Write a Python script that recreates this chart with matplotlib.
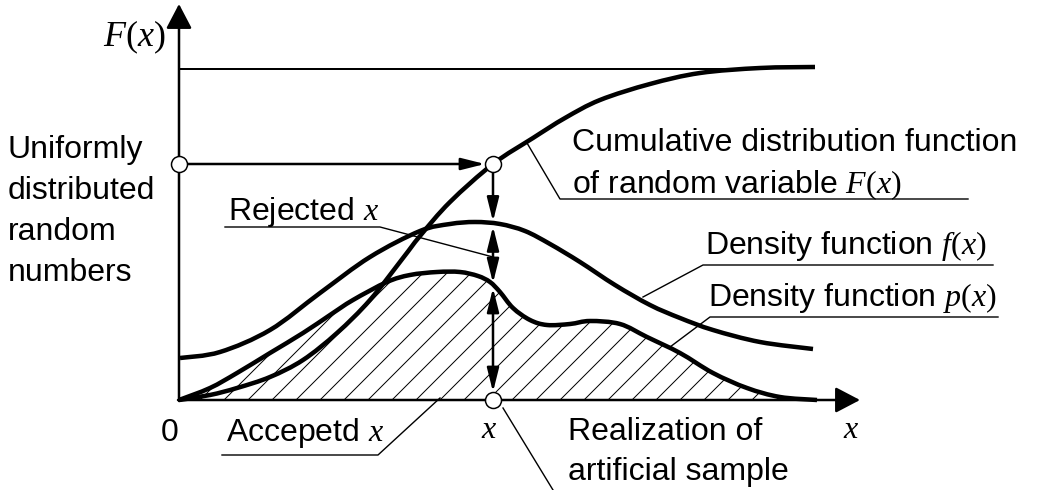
import numpy as np
import matplotlib
matplotlib.use("Agg")
from matplotlib import pyplot as plt
from matplotlib.path import Path
from matplotlib.patches import PathPatch

plt.rcParams['font.family'] = ['Liberation Sans', 'DejaVu Sans']
plt.rcParams['mathtext.fontset'] = 'custom'
plt.rcParams['mathtext.it'] = 'Liberation Serif:italic'
plt.rcParams['mathtext.rm'] = 'Liberation Serif'
plt.rcParams['hatch.linewidth'] = 1.0

# curves (pixel-like units, y grows downward)
cdf_x = [179, 210, 237, 270, 303, 337, 370, 403, 420, 450, 493, 533, 565, 600, 650, 700, 760, 815]
cdf_y = [400, 395, 388, 377, 360, 333, 300, 258, 236, 202, 164, 138, 118, 100, 84, 73, 68, 67]

f_x = [180, 220, 270, 320, 370, 420, 450, 475, 500, 525, 550, 580, 615, 650, 680, 713, 760, 813]
f_y = [358, 352, 330, 293, 257, 231, 224, 222, 224, 231, 244, 262, 285, 305, 318, 330, 342, 349]

p_x = [179, 210, 237, 270, 303, 330, 353, 387, 410, 437, 460, 478, 490, 500, 513, 530, 547,
       570, 590, 620, 647, 680, 713, 747, 780, 817]
p_y = [400, 388, 373, 353, 333, 315, 300, 282, 275, 272, 272, 276, 282, 292, 308, 320, 325,
       324, 321, 324, 337, 353, 373, 388, 397, 400]

left_label = ['Uniformly', 'distributed', 'random', 'numbers']

x0 = 493  # sampled x
axis_y = 400


def smooth_path(xs, ys, close_to=None):
    # bezier path through the read points (catmull-rom handles)
    pts = np.column_stack([xs, ys]).astype(float)
    n = len(pts)
    verts = [pts[0]]
    codes = [Path.MOVETO]
    for i in range(n - 1):
        p0 = pts[max(i - 1, 0)]
        p1 = pts[i]
        p2 = pts[i + 1]
        p3 = pts[min(i + 2, n - 1)]
        verts += [p1 + (p2 - p0) / 6, p2 - (p3 - p1) / 6, p2]
        codes += [Path.CURVE4] * 3
    if close_to is not None:
        verts += [(xs[-1], close_to), (xs[0], close_to), pts[0]]
        codes += [Path.LINETO, Path.LINETO, Path.CLOSEPOLY]
    return Path(verts, codes)


fig = plt.figure(figsize=(1038 / 72, 490 / 72), dpi=72)
ax = fig.add_axes([0, 0, 1, 1])
ax.set_xlim(0, 1038)
ax.set_ylim(490, 0)
ax.axis('off')

# hatched area under p(x)
ax.add_patch(PathPatch(smooth_path(p_x, p_y, close_to=axis_y), facecolor='none',
                       edgecolor='black', hatch='/', lw=0))

for xs, ys in [(cdf_x, cdf_y), (f_x, f_y), (p_x, p_y)]:
    ax.add_patch(PathPatch(smooth_path(xs, ys), facecolor='none', edgecolor='black',
                           lw=4.5, capstyle='butt', joinstyle='round'))

# axes with arrows
big = dict(arrowstyle='-|>,head_length=2.1,head_width=1.1', mutation_scale=10,
           color='black', lw=2.5, shrinkA=0, shrinkB=0)
ax.annotate('', xy=(179, 4), xytext=(179, axis_y + 1), arrowprops=big)
ax.annotate('', xy=(860, axis_y), xytext=(178, axis_y), arrowprops=big)

# top level line F=1
ax.plot([179, 740], [69, 69], color='black', lw=2)

# sampling arrows
F0 = np.interp(x0, cdf_x, cdf_y)
f0 = np.interp(x0, f_x, f_y)
p0 = np.interp(x0, p_x, p_y)
small = dict(arrowstyle='-|>,head_length=2.0,head_width=0.5', mutation_scale=10,
             color='black', lw=2.5, shrinkA=0, shrinkB=0)
dbl = dict(small, arrowstyle='<|-|>,head_length=2.0,head_width=0.5')
ax.annotate('', xy=(x0 - 8, F0), xytext=(187, F0), arrowprops=small)
ax.annotate('', xy=(x0, f0 - 2), xytext=(x0, F0 + 8), arrowprops=small)
mid = 257
ax.annotate('', xy=(x0, f0 + 3), xytext=(x0, mid), arrowprops=small)
ax.annotate('', xy=(x0, p0 - 2), xytext=(x0, mid), arrowprops=small)
ax.annotate('', xy=(x0, axis_y - 8), xytext=(x0, p0 + 3), arrowprops=dbl)

# circles
circ = dict(marker='o', ms=16, mfc='white', mec='black', mew=1.5, ls='none', zorder=5)
ax.plot([179, x0, x0], [F0, F0, axis_y], **circ)

# leader lines
thin = dict(color='black', lw=1.4)
ax.plot([225, 380, x0], [227, 227, mid], **thin)
ax.plot([527, 560, 968], [143, 199, 199], **thin)
ax.plot([643, 703, 993], [297, 265, 265], **thin)
ax.plot([670, 710, 998], [347, 317, 317], **thin)
ax.plot([222, 378, 440], [455, 455, 398], **thin)
ax.plot([503, 553], [408, 490], **thin)

# text
fs = 32
ax.text(103, 46, '$F(x)$', fontsize=36, va='baseline')
for i, s in enumerate(left_label):
    ax.text(8, 158 + 41 * i, s, fontsize=fs, va='baseline')
ax.text(228, 220, 'Rejected $x$', fontsize=fs, va='baseline')
ax.text(572, 151, 'Cumulative distribution function', fontsize=fs, va='baseline')
ax.text(572, 193, 'of random variable $F(x)$', fontsize=fs, va='baseline')
ax.text(705, 254, 'Density function $f(x)$', fontsize=fs, va='baseline')
ax.text(708, 306, 'Density function $p(x)$', fontsize=fs, va='baseline')
ax.text(161, 441, '0', fontsize=fs, va='baseline')
ax.text(226, 441, 'Accepetd $x$', fontsize=fs, va='baseline')
ax.text(489, 438, '$x$', fontsize=fs, va='baseline', ha='center')
ax.text(851, 438, '$x$', fontsize=fs, va='baseline', ha='center')
ax.text(568, 440, 'Realization of', fontsize=fs, va='baseline')
ax.text(568, 480, 'artificial sample', fontsize=fs, va='baseline')

fig.savefig('out.png', dpi=72)
